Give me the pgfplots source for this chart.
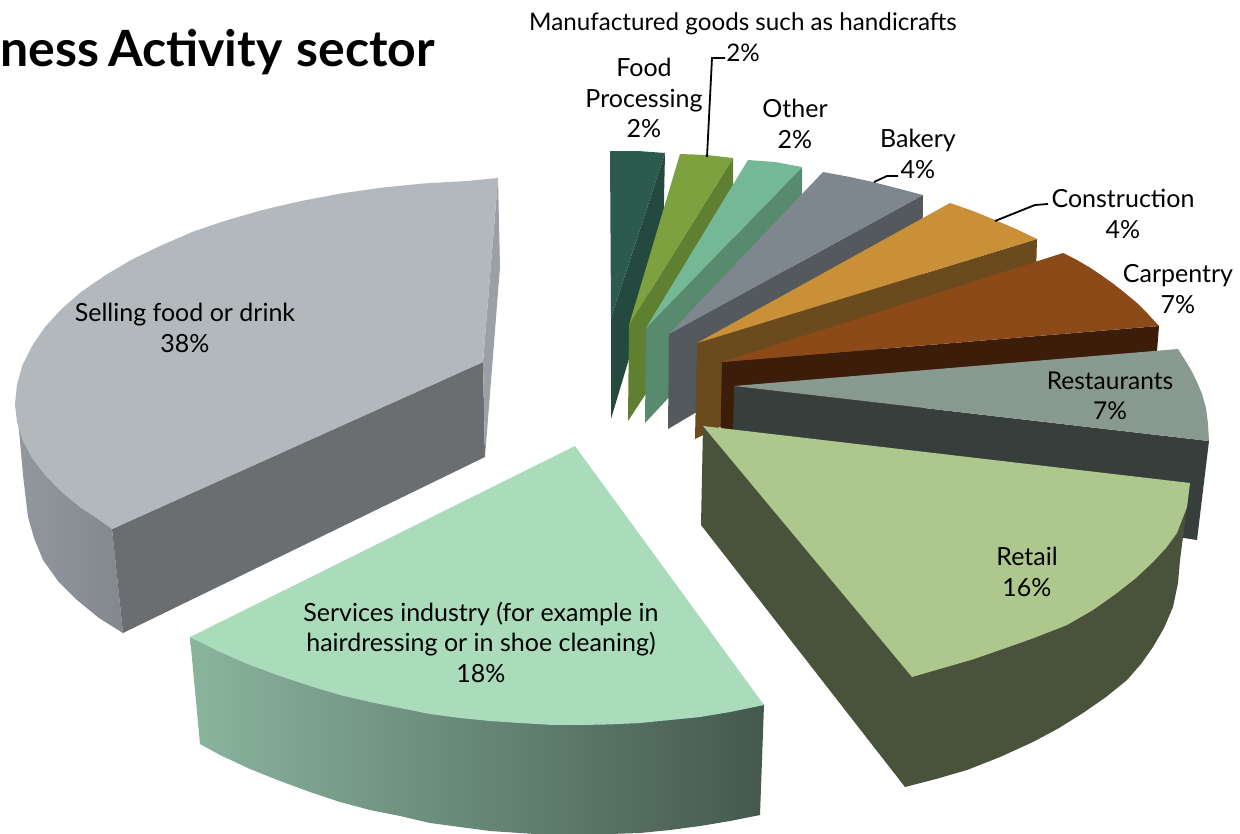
\documentclass[border=0pt]{standalone}
\usepackage{fontspec}
\setmainfont{Lato}
\usepackage{pgfplots}
\pgfplotsset{compat=1.18}
\definecolor{foodT}{HTML}{2D5A4E}\definecolor{foodS}{HTML}{244A40}
\definecolor{manT}{HTML}{7DA13E}\definecolor{manS}{HTML}{5F7F31}
\definecolor{othT}{HTML}{75B896}\definecolor{othS}{HTML}{588A6E}
\definecolor{bakT}{HTML}{7F878E}\definecolor{bakS}{HTML}{53595D}
\definecolor{conT}{HTML}{C99038}\definecolor{conS}{HTML}{6B4B1E}
\definecolor{carT}{HTML}{8B4A18}\definecolor{carS}{HTML}{3C1D09}
\definecolor{resT}{HTML}{88998F}\definecolor{resS}{HTML}{363F3B}
\definecolor{retT}{HTML}{AEC78C}\definecolor{retS}{HTML}{49523A}
\definecolor{selT}{HTML}{B3B8BC}\definecolor{selF}{HTML}{6B6E70}\definecolor{selE}{HTML}{9AA0A6}
\definecolor{serT}{HTML}{AADCBC}
\definecolor{serL}{HTML}{8AB59D}\definecolor{serR}{HTML}{44594E}
\tikzset{lab/.style={font=\fontsize{25}{30.5}\selectfont,align=center,text=black,inner sep=0pt}}
\begin{document}
\begin{tikzpicture}
\useasboundingbox (0,0) rectangle (1240pt,833pt);
\begin{axis}[
  at={(0,0)},anchor=south west,
  width=1240pt,height=833pt,scale only axis,hide axis,
  xmin=0,xmax=1240,ymin=0,ymax=833,y dir=reverse,
]
% Selling food or drink 38%
\addplot[draw=none,left color=selE!95!black,right color=selE!85!black] coordinates {(15,402)(19,430)(23,475)(28,517)(34,538)(43,560)(58,581)(77,600)(99,618)(123,633)(112,529)} -- cycle;
\addplot[draw=none,fill=selF] coordinates {(112,529)(483,362)(485,457)(123,633)} -- cycle;
\addplot[draw=none,fill=selE] coordinates {(498,178)(500,267)(485,457)(483,362)} -- cycle;
\addplot[draw=none,fill=selT] coordinates {(498,178)(467,181)(424,183.4)(382,187.6)(341,193.5)(301,201)(262.5,210)(226,220.5)(192,232)(160,246)(131,260)(105,275.5)(81,292)(61.5,309)(45,327)(32,346)(22.5,365)(17,384.5)(15,404)(17,422)(22.5,440)(32,458)(45,475)(61.5,492)(81,508)(95,517)(112,529)(483,362)} -- cycle;
% Services 18%
\addplot[draw=none,left color=serL,right color=serR] coordinates {(190,637)(200,744)(220,755)(250,769)(280,781)(310,792)(340,802)(370,810)(400,816)(430,823)(460,827)(490,831)(520,833)(550,835)(580,835)(610,834)(640,833)(670,830)(700,826)(730,821)(760,815)(764,705)} -- cycle;
\addplot[draw=none,fill=serT] coordinates {(575,446)(190,637)(220,652)(250,665)(280,676)(310,686)(340,695)(370,702)(400,708)(430,714)(460,718)(490,721)(520,723)(550,724.8)(580,725)(610,724.4)(640,723)(670,720)(700,717)(730,712)(764,705)} -- cycle;
% Food processing 2%
\addplot[draw=none,fill=foodS] coordinates {(665,153)(663,245)(611,419)(611,318)} -- cycle;
\addplot[draw=none,fill=foodT] coordinates {(611,318)(610,151)(638,151)(665,153)} -- cycle;
% Manufactured 2%
\addplot[draw=none,fill=manS] coordinates {(733,158)(733,261)(628,421)(629,325)} -- cycle;
\addplot[draw=none,fill=manT] coordinates {(629,325)(680,154)(707,155)(733,158)} -- cycle;
% Other 2%
\addplot[draw=none,fill=othS] coordinates {(802,167)(802,255)(645,423)(646,328)} -- cycle;
\addplot[draw=none,fill=othT] coordinates {(646,328)(748,160)(775,162)(802,167)} -- cycle;
% Bakery 4%
\addplot[draw=none,fill=bakS] coordinates {(923,195)(922,279)(668,429)(669,334)} -- cycle;
\addplot[draw=none,fill=bakT] coordinates {(669,334)(823,172)(850,177)(873,182)(900,189)(923,195)} -- cycle;
% Construction 4%
\addplot[draw=none,fill=conS] coordinates {(1037,239)(1036,275)(695,439)(697,343)} -- cycle;
\addplot[draw=none,fill=conT] coordinates {(697,343)(950,203)(973,211)(995,220)(1016,229)(1037,239)} -- cycle;
% Carpentry 7%
\addplot[draw=none,fill=carS] coordinates {(1159,326)(1157,351)(720,458)(722,362)} -- cycle;
\addplot[draw=none,fill=carT] coordinates {(722,362)(1063,253)(1076,259.5)(1089,267)(1101,275)(1113,283.5)(1125,293)(1137,303)(1148,314)(1159,326)} -- cycle;
% Restaurants 7%
\addplot[draw=none,fill=resS] coordinates {(734,386)(1209,441)(1197,540)(1184,538)(732,480)} -- cycle;
\addplot[draw=none,fill=resT] coordinates {(734,386)(1178,349)(1185,360)(1191,370)(1197,382)(1202,394)(1206,408)(1208,424)(1209,441)} -- cycle;
% Retail 16%
\addplot[draw=none,fill=retS] coordinates {(703,426)(701,525)(905,787)(936,779)(967,770)(1000,757)(1033,742)(1059,728)(1083,713)(1106,697)(1127,680)(1141,664)(1153,647)(1164,628)(1173,607)(1178,583)(1180,560)(1183,537)(1190,483)} -- cycle;
\addplot[draw=none,fill=retT] coordinates {(703,426)(1190,483)(1187,507)(1177,533)(1166,548)(1153,562)(1136,578)(1117,593)(1093,610)(1067,625)(1034,638)(1000,650)(971,660)(943,668)(912,677)} -- cycle;
% Leader lines
\addplot[black,line width=1.8pt] coordinates {(707,157)(712,58)(725,58)};
\addplot[black,line width=1.8pt] coordinates {(874,182)(887,176)(898,176)};
\addplot[black,line width=1.8pt] coordinates {(995,221)(1035,205)(1048,204)};
% Labels
\node[lab,anchor=west,font=\fontsize{50}{52}\selectfont\bfseries] at (axis cs:0,52) {ness\hspace{9pt}Activity\hspace{14pt}sector};
\node[lab,font=\fontsize{24.2}{30.5}\selectfont] at (axis cs:743,37) {Manufactured goods such as handicrafts\\2\%};
\node[lab] at (axis cs:644,98) {Food\\Processing\\2\%};
\node[lab] at (axis cs:795,124) {Other\\2\%};
\node[lab] at (axis cs:918,154) {Bakery\\4\%};
\node[lab] at (axis cs:1123,214) {Construction\\4\%};
\node[lab] at (axis cs:1178,289) {Carpentry\\7\%};
\node[lab,font=\fontsize{24.5}{30.5}\selectfont] at (axis cs:1110,396) {Restaurants\\7\%};
\node[lab] at (axis cs:1027,572) {Retail\\16\%};
\node[lab] at (axis cs:481,642) {Services industry (for example in\\hairdressing or in shoe cleaning)\\18\%};
\node[lab] at (axis cs:185,328) {Selling food or drink\\38\%};
\end{axis}
\end{tikzpicture}
\end{document}
